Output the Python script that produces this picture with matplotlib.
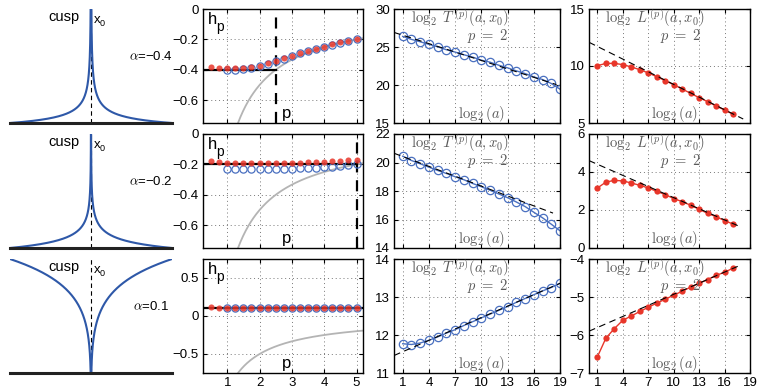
import numpy as np
import matplotlib
matplotlib.use("Agg")
import matplotlib.pyplot as plt

plt.rcParams["font.family"] = ["Liberation Sans", "DejaVu Sans"]
plt.rcParams["mathtext.fontset"] = "cm"
plt.rcParams["font.size"] = 9

W, H = 758, 391

# --- column 1: cusp shapes -------------------------------------------------
ALPHAS = [-0.4, -0.2, 0.1]
ALPHA_LABELS = [r"$\alpha$=−0.4", r"$\alpha$=−0.2", r"$\alpha$=0.1"]
CUSP_YLIM = [(1.0, 8.5), (1.0, 3.9), (0.58, 1.0)]

# --- column 2: h_p estimates -----------------------------------------------
P_RED = [0.5, 0.75, 1.0, 1.25, 1.5, 1.75, 2.0, 2.25, 2.5, 2.75, 3.0,
         3.25, 3.5, 3.75, 4.0, 4.25, 4.5, 4.75, 5.0]
P_BLUE = [1.0, 1.25, 1.5, 1.75, 2.0, 2.25, 2.5, 2.75, 3.0, 3.25, 3.5,
          3.75, 4.0, 4.25, 4.5, 4.75, 5.0]
HP_RED = [
    [-0.384, -0.39, -0.39, -0.39, -0.387, -0.382, -0.373, -0.358, -0.342,
     -0.324, -0.307, -0.291, -0.276, -0.26, -0.247, -0.233, -0.22, -0.209, -0.196],
    [-0.178, -0.187, -0.189, -0.19, -0.19, -0.19, -0.19, -0.19, -0.19, -0.19,
     -0.189, -0.188, -0.187, -0.185, -0.182, -0.179, -0.176, -0.173, -0.169],
    [0.116, 0.107, 0.1, 0.1, 0.1, 0.1, 0.1, 0.1, 0.1, 0.1, 0.1, 0.1, 0.1,
     0.1, 0.1, 0.1, 0.1, 0.1, 0.1],
]
HP_BLUE = [
    [-0.40, -0.40, -0.396, -0.386, -0.375, -0.36, -0.344, -0.326, -0.309,
     -0.292, -0.277, -0.261, -0.248, -0.234, -0.221, -0.21, -0.197],
    [-0.233, -0.233, -0.232, -0.232, -0.231, -0.231, -0.23, -0.229, -0.228,
     -0.226, -0.224, -0.221, -0.218, -0.214, -0.209, -0.203, -0.196],
    [0.1, 0.1, 0.1, 0.1, 0.1, 0.1, 0.1, 0.1, 0.1, 0.1, 0.1, 0.1, 0.1, 0.1,
     0.1, 0.1, 0.1],
]
HP_LEVEL = [-0.4, -0.2, 0.1]
P_CRIT = [2.5, 5.0, None]
HP_YLIM = [(-0.75, 0), (-0.75, 0), (-0.75, 0.75)]
HP_YTICKS = [[-0.6, -0.4, -0.2, 0], [-0.6, -0.4, -0.2, 0], [-0.5, 0, 0.5]]
HP_YTICKLABELS = [["−0.6", "−0.4", "−0.2", "0"], ["−0.6", "−0.4", "−0.2", "0"],
                  ["−0.5", "0", "0.5"]]

# --- column 3: log2 T^(p) -------------------------------------------------
SCALES_T = list(range(1, 20))
LOG_T = [
    [26.39, 26.0, 25.69, 25.34, 25.03, 24.64, 24.33, 23.98, 23.67, 23.27,
     23.0, 22.6, 22.26, 21.86, 21.51, 21.07, 20.72, 20.2, 19.45],
    [20.44, 20.14, 19.91, 19.67, 19.44, 19.23, 19.0, 18.79, 18.53, 18.30,
     18.05, 17.79, 17.53, 17.23, 16.91, 16.51, 16.12, 15.67, 15.21],
    [11.77, 11.75, 11.79, 11.86, 11.95, 12.05, 12.14, 12.25, 12.35, 12.45,
     12.55, 12.65, 12.75, 12.86, 12.96, 13.06, 13.16, 13.25, 13.36],
]
FIT_T_X = [[0, 18.6], [0, 18.2], [0, 19]]
FIT_T_Y = [[26.92, 20.05], [20.65, 16.45], [11.46, 13.36]]
T_YLIM = [(15, 30), (14, 22), (11, 14)]
T_YTICKS = [[15, 20, 25, 30], [14, 16, 18, 20, 22], [11, 12, 13, 14]]

# --- column 4: log2 L^(p) -------------------------------------------------
SCALES_L = list(range(1, 18))
LOG_L = [
    [10.03, 10.23, 10.23, 10.12, 9.91, 9.68, 9.39, 9.06, 8.71, 8.36, 7.98,
     7.6, 7.22, 6.87, 6.49, 6.14, 5.76],
    [3.16, 3.47, 3.56, 3.53, 3.42, 3.30, 3.16, 2.98, 2.81, 2.6, 2.44, 2.25,
     2.04, 1.82, 1.65, 1.44, 1.26],
    [-6.57, -6.08, -5.83, -5.61, -5.50, -5.38, -5.27, -5.16, -5.06, -4.95,
     -4.85, -4.74, -4.64, -4.54, -4.43, -4.35, -4.24],
]
FIT_L_X = [[0, 18.2], [0, 18.0], [0, 18.0]]
FIT_L_Y = [[12.08, 5.35], [4.6, 1.09], [-5.90, -4.15]]
L_YLIM = [(5, 15), (0, 6), (-7, -4)]
L_YTICKS = [[5, 10, 15], [0, 2, 4, 6], [-7, -6, -5, -4]]
L_YTICKLABELS = [["5", "10", "15"], ["0", "2", "4", "6"], ["−7", "−6", "−5", "−4"]]

SCALE_TICKS = [1, 4, 7, 10, 13, 16, 19]

ROWS = [(9, 123), (134, 248), (259, 373)]
COLS = [(10, 172), (203, 363), (394, 560), (589, 750)]

BLUE = "#2E58A8"
CIRCLE = "#4A70C0"
RED = "#E8362A"
TXT_GRAY = "#5a5a5a"


def px_axes(fig, col, row):
    left, right = COLS[col]
    top, bottom = ROWS[row]
    return fig.add_axes([left / W, 1 - bottom / H, (right - left) / W, (bottom - top) / H])


def style_box(ax):
    for s in ax.spines.values():
        s.set_linewidth(1.0)
    ax.tick_params(direction="in", length=3, width=0.8, top=True, right=True,
                   labelsize=9.5, pad=3)
    ax.grid(True, linestyle=(0, (1, 3)), color="#777777", linewidth=0.7)


def plot_cusp(ax, i):
    a = ALPHAS[i]
    x = np.logspace(-6, 0, 3000)
    xs = np.concatenate([-x[::-1], x])
    ys = np.abs(xs) ** a
    lo, hi = CUSP_YLIM[i]
    ax.axvline(0, color="black", lw=0.8, ls=(0, (4, 3)))
    ax.plot(xs, ys, color=BLUE, lw=1.5)
    ax.set_xlim(-1, 1)
    ax.set_ylim(lo, hi)
    for k in ("top", "left", "right"):
        ax.spines[k].set_visible(False)
    ax.spines["bottom"].set_linewidth(2.2)
    ax.spines["bottom"].set_color("#222222")
    ax.set_xticks([])
    ax.set_yticks([])
    ax.patch.set_alpha(0)
    ax.text(0.33, 0.93, "cusp", transform=ax.transAxes, ha="center", va="center",
            fontsize=10.5)
    ax.text(0.535, 0.905, "x", transform=ax.transAxes, ha="center", va="center",
            fontsize=9.5)
    ax.text(0.57, 0.87, "0", transform=ax.transAxes, ha="center", va="center",
            fontsize=6.5)
    ax.text(0.87, 0.58, ALPHA_LABELS[i], transform=ax.transAxes, ha="center",
            va="center", fontsize=9.5)


def plot_hp(ax, i):
    p_theory = np.linspace(1.2, 5.3, 200)
    ax.plot(p_theory, -1 / p_theory, color="#B4B4B4", lw=1.3)
    crit = P_CRIT[i]
    x_end = crit if crit is not None else 5.3
    ax.plot([0.2, x_end], [HP_LEVEL[i]] * 2, color="black", lw=1.6)
    if crit is not None:
        ax.plot([crit, crit], [-0.75, 0], color="black", lw=1.6, ls=(0, (5, 3.5)))
    ax.plot(P_BLUE, HP_BLUE[i], "o", mfc="none", mec=CIRCLE, ms=5.2, mew=0.9)
    ax.plot(P_RED, HP_RED[i], "o", color=RED, ms=4.4, alpha=0.85, mew=0)
    ax.set_xlim(0.25, 5.2)
    ax.set_ylim(*HP_YLIM[i])
    ax.set_xticks([1, 2, 3, 4, 5])
    ax.set_yticks(HP_YTICKS[i])
    ax.set_yticklabels(HP_YTICKLABELS[i])
    style_box(ax)
    if i < 2:
        ax.tick_params(labelbottom=False)
    ax.text(0.06, 0.91, "h", transform=ax.transAxes, ha="center", va="center",
            fontsize=12)
    ax.text(0.105, 0.84, "p", transform=ax.transAxes, ha="center", va="center",
            fontsize=10)
    ax.text(0.525, 0.08, "p", transform=ax.transAxes, ha="center", va="center",
            fontsize=12)


def log_labels(ax, name):
    ax.text(0.10, 0.925, r"$\log_2\ %s^{\,(p)}(a,x_0)$" % name, transform=ax.transAxes,
            ha="left", va="center", fontsize=10.5, color=TXT_GRAY)
    ax.text(0.44, 0.765, r"$p\ =\ 2$", transform=ax.transAxes, ha="left",
            va="center", fontsize=10.5, color=TXT_GRAY)
    ax.text(0.53, 0.08, r"$\log_2(a)$", transform=ax.transAxes, ha="center",
            va="center", fontsize=10.5, color=TXT_GRAY)


def plot_T(ax, i):
    ax.plot(SCALES_T, LOG_T[i], "-o", color=CIRCLE, mfc="none", ms=6, lw=1.0, mew=0.9)
    ax.plot(FIT_T_X[i], FIT_T_Y[i], color="black", lw=0.8, ls=(0, (6, 4)))
    ax.set_xlim(0, 19)
    ax.set_ylim(*T_YLIM[i])
    ax.set_xticks(SCALE_TICKS)
    ax.set_yticks(T_YTICKS[i])
    style_box(ax)
    if i < 2:
        ax.tick_params(labelbottom=False)
    log_labels(ax, "T")


def plot_L(ax, i):
    ax.plot(SCALES_L, LOG_L[i], "-o", color=RED, ms=4.5, lw=1.0, mew=0)
    ax.plot(FIT_L_X[i], FIT_L_Y[i], color="black", lw=0.8, ls=(0, (6, 4)))
    ax.set_xlim(0, 19)
    ax.set_ylim(*L_YLIM[i])
    ax.set_xticks(SCALE_TICKS)
    ax.set_yticks(L_YTICKS[i])
    ax.set_yticklabels(L_YTICKLABELS[i])
    style_box(ax)
    if i < 2:
        ax.tick_params(labelbottom=False)
    log_labels(ax, "L")


def main():
    fig = plt.figure(figsize=(W / 100, H / 100), dpi=100)
    for i in range(3):
        plot_cusp(px_axes(fig, 0, i), i)
        plot_hp(px_axes(fig, 1, i), i)
        plot_T(px_axes(fig, 2, i), i)
        plot_L(px_axes(fig, 3, i), i)
    fig.savefig("out.png", dpi=100)
    plt.close(fig)


if __name__ == "__main__":
    main()
